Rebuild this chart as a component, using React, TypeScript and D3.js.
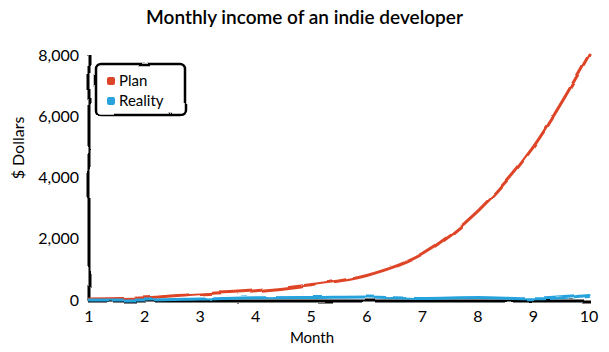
import React from "react";
import * as d3 from "d3";

const months = ["1", "2", "3", "4", "5", "6", "7", "8", "9", "10"];
const planValues = [30, 70, 200, 300, 500, 800, 1500, 2900, 5000, 8000];
const realityValues = [0, 1, 30, 70, 80, 100, 50, 80, 40, 150];
const yTicks = [0, 2000, 4000, 6000, 8000];
const seriesNames = ["Plan", "Reality"];
const seriesColors = ["#dd4528", "#28a3dd"];

const W = 609;
const H = 352;
const FONT = "Lato, 'Open Sans', sans-serif";

export default function App() {
  const x = d3.scalePoint<string>().domain(months).range([89, 589]);
  const y = d3.scaleLinear().domain([0, 8000]).range([300, 55]);
  const line = d3
    .line<number>()
    .x((_, i) => x(months[i]) as number)
    .y((d) => y(d))
    .curve(d3.curveMonotoneX);
  const series = [planValues, realityValues];
  const fmt = d3.format(",");

  return (
    <svg
      width={W}
      height={H}
      style={{ position: "absolute", left: 0, top: 0, background: "#fff" }}
    >
      <defs>
        <filter id="xkcdify" filterUnits="userSpaceOnUse" x="-5" y="-5" width="110%" height="110%">
          <feTurbulence type="fractalNoise" baseFrequency="0.05" result="noise" />
          <feDisplacementMap
            scale="4"
            xChannelSelector="R"
            yChannelSelector="G"
            in="SourceGraphic"
            in2="noise"
          />
        </filter>
      </defs>
      <rect width={W} height={H} fill="#fff" />
      <text
        x={W / 2}
        y={24}
        textAnchor="middle"
        fontFamily={FONT}
        fontSize={19}
        fontWeight={600}
        fill="#000"
      >
        Monthly income of an indie developer
      </text>

      <g filter="url(#xkcdify)">
        <line x1={89} x2={89} y1={y(8000)} y2={y(0) + 1} stroke="#000" strokeWidth={3} />
        <line x1={88} x2={590} y1={y(0) + 1} y2={y(0) + 1} stroke="#000" strokeWidth={3} />
        {series.map((vals, si) => (
          <path
            key={si}
            d={line(vals) || ""}
            fill="none"
            stroke={seriesColors[si]}
            strokeWidth={3}
            strokeLinecap="round"
          />
        ))}
      </g>

      {yTicks.map((t) => (
        <text
          key={t}
          x={79}
          y={y(t)}
          dy="0.35em"
          textAnchor="end"
          fontFamily={FONT}
          fontSize={16}
          fill="#000"
        >
          {fmt(t)}
        </text>
      ))}
      {months.map((m) => (
        <text
          key={m}
          x={x(m) as number}
          y={316}
          dy="0.35em"
          textAnchor="middle"
          fontFamily={FONT}
          fontSize={16}
          fill="#000"
        >
          {m}
        </text>
      ))}
      <text
        x={312}
        y={338}
        dy="0.35em"
        textAnchor="middle"
        fontFamily={FONT}
        fontSize={15}
        fill="#000"
      >
        Month
      </text>
      <text
        transform={`translate(18, 148) rotate(-90)`}
        textAnchor="middle"
        dy="0.35em"
        fontFamily={FONT}
        fontSize={16}
        fill="#000"
      >
        $ Dollars
      </text>

      <g>
        <rect
          x={96}
          y={64}
          width={89}
          height={51}
          rx={5}
          fill="#fff"
          stroke="#000"
          strokeWidth={2.5}
          filter="url(#xkcdify)"
        />
        {seriesNames.map((name, i) => (
          <g key={name} transform={`translate(107, ${81 + i * 20})`}>
            <rect x={0} y={-4} width={8} height={8} rx={2} fill={seriesColors[i]} />
            <text x={12} y={0} dy="0.35em" fontFamily={FONT} fontSize={15} fill="#000">
              {name}
            </text>
          </g>
        ))}
      </g>
    </svg>
  );
}
